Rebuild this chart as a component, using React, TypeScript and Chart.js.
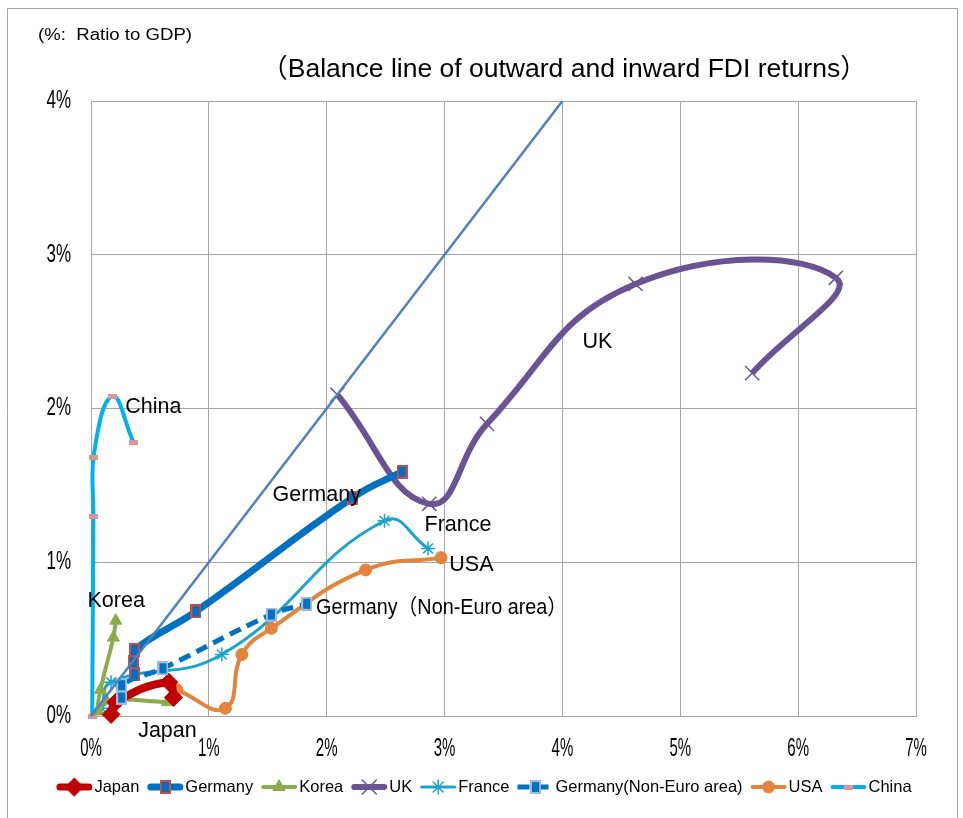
import React, { useEffect, useRef } from "react";
import { Chart, registerables } from "chart.js";
import { drawPoint } from "chart.js/helpers";

Chart.register(...registerables);

// Axis ticks (percent of GDP)
const xTickValues = [0, 1, 2, 3, 4, 5, 6, 7];
const yTickValues = [0, 1, 2, 3, 4];

const seriesNames = [
  "Japan",
  "Germany",
  "Korea",
  "UK",
  "France",
  "Germany(Non-Euro area)",
  "USA",
  "China",
];

// [outward FDI returns, inward FDI returns] as % of GDP
const japan: [number, number][] = [[0.17, 0.01], [0.21, 0.09], [0.66, 0.22], [0.70, 0.12]];
const germany: [number, number][] = [[0.37, 0.27], [0.36, 0.35], [0.37, 0.43], [0.89, 0.68], [2.22, 1.42], [2.64, 1.59]];
const korea: [number, number][] = [[0.65, 0.09], [0.13, 0.10], [0.06, 0.03], [0.08, 0.17], [0.19, 0.51], [0.21, 0.62]];
const uk: [number, number][] = [[2.09, 2.09], [2.87, 1.38], [3.36, 1.90], [4.62, 2.81], [6.32, 2.85], [5.61, 2.23]];
const france: [number, number][] = [[0.09, 0.05], [0.17, 0.22], [1.11, 0.40], [2.49, 1.27], [2.86, 1.09]];
const germanyNonEuro: [number, number][] = [[0.26, 0.12], [0.26, 0.20], [0.61, 0.31], [1.53, 0.66], [1.83, 0.73]];
const usa: [number, number][] = [[0.73, 0.17], [1.14, 0.05], [1.28, 0.40], [1.53, 0.57], [2.33, 0.95], [2.97, 1.03]];
const china: [number, number][] = [[0.01, 0.0], [0.02, 1.30], [0.02, 1.68], [0.18, 2.08], [0.36, 1.78]];
const balanceLine: [number, number][] = [[0, 0], [4, 4]];

// In-plot series labels, anchored in data units (left edge, vertical middle)
const seriesLabels: { text: string; x: number; y: number; fit?: number }[] = [
  { text: "China", x: 0.29, y: 2.01 },
  { text: "UK", x: 4.17, y: 2.43 },
  { text: "Germany", x: 1.54, y: 1.44 },
  { text: "France", x: 2.83, y: 1.24 },
  { text: "USA", x: 3.04, y: 0.98 },
  { text: "Germany（Non-Euro area）", x: 1.91, y: 0.70, fit: 251 },
  { text: "Korea", x: -0.03, y: 0.75 },
  { text: "Japan", x: 0.40, y: -0.10 },
];

const TITLE = "（Balance line of outward and inward FDI returns）";
const UNIT_NOTE = "(%:  Ratio to GDP)";

const FONT = '"Liberation Sans", Arial, "Noto Sans CJK JP", sans-serif';
const GRID = "#A6A6A6";

const pts = (a: [number, number][]) => a.map(([x, y]) => ({ x, y }));

function boxMarker(w: number, h: number, fill: string, stroke: string | null, lw = 2) {
  const c = document.createElement("canvas");
  c.width = w;
  c.height = h;
  const g = c.getContext("2d")!;
  g.fillStyle = fill;
  g.fillRect(0, 0, w, h);
  if (stroke) {
    g.strokeStyle = stroke;
    g.lineWidth = lw;
    g.strokeRect(lw / 2, lw / 2, w - lw, h - lw);
  }
  return c;
}

function drawText(
  ctx: CanvasRenderingContext2D,
  s: string,
  x: number,
  y: number,
  size: number,
  align: CanvasTextAlign,
  opts: { sx?: number; width?: number; color?: string } = {}
) {
  ctx.save();
  ctx.font = `${size}px ${FONT}`;
  let sx = opts.sx ?? 1;
  if (opts.width) sx = opts.width / ctx.measureText(s).width;
  ctx.translate(x, y);
  ctx.scale(sx, 1);
  ctx.textAlign = align;
  ctx.textBaseline = "middle";
  ctx.fillStyle = opts.color ?? "#000";
  ctx.fillText(s, 0, 0);
  ctx.restore();
}

const decorPlugin = {
  id: "decor",
  beforeDraw(chart: any) {
    const { ctx, width, height } = chart;
    ctx.save();
    ctx.fillStyle = "#fff";
    ctx.fillRect(0, 0, width, height);
    ctx.strokeStyle = "#A0A0A0";
    ctx.lineWidth = 1;
    ctx.beginPath();
    ctx.moveTo(7.5, height);
    ctx.lineTo(7.5, 8.5);
    ctx.lineTo(957.5, 8.5);
    ctx.lineTo(957.5, height);
    ctx.stroke();
    ctx.restore();
  },
  afterDraw(chart: any) {
    const { ctx } = chart;
    const xs = chart.scales.x;
    const ys = chart.scales.y;

    // tick labels
    xs.ticks.forEach((t: any) => {
      drawText(ctx, `${t.value}%`, xs.getPixelForValue(t.value), 749, 25, "center", { sx: 0.6 });
    });
    ys.ticks.forEach((t: any) => {
      drawText(ctx, `${t.value}%`, 71, ys.getPixelForValue(t.value), 25, "right", { sx: 0.68 });
    });

    // heading texts
    drawText(ctx, UNIT_NOTE, 38, 36, 16, "left", { width: 154 });
    drawText(ctx, TITLE, 564, 70, 26.5, "center");

    // series labels
    seriesLabels.forEach((l) => {
      drawText(ctx, l.text, xs.getPixelForValue(l.x), ys.getPixelForValue(l.y), 21.5, "left", {
        width: l.fit,
      });
    });

    // legend
    const sets = chart.data.datasets.filter((d: any) => seriesNames.includes(d.label));
    const symW = 36;
    const fs = 16.5;
    ctx.save();
    ctx.font = `${fs}px ${FONT}`;
    const widths = sets.map((d: any) => ctx.measureText(d.label).width);
    ctx.restore();
    const total =
      widths.reduce((a: number, b: number) => a + b, 0) + sets.length * (symW + 2) + (sets.length - 1) * 8;
    let x = 484 - total / 2;
    const ly = 787;
    sets.forEach((d: any, i: number) => {
      ctx.save();
      ctx.strokeStyle = d.borderColor;
      ctx.lineWidth = Math.min(d.borderWidth, 7);
      ctx.setLineDash(d.borderDash || []);
      ctx.lineCap = d.borderDash ? "butt" : "round";
      const inset = d.borderDash ? 0 : ctx.lineWidth / 2;
      ctx.beginPath();
      ctx.moveTo(x + inset, ly);
      ctx.lineTo(x + symW - inset, ly);
      ctx.stroke();
      ctx.setLineDash([]);
      ctx.fillStyle = d.pointBackgroundColor;
      ctx.strokeStyle = d.pointBorderColor;
      ctx.lineWidth = d.pointBorderWidth;
      drawPoint(
        ctx,
        { pointStyle: d.pointStyle, radius: d.pointRadius, rotation: 0, borderWidth: d.pointBorderWidth } as any,
        x + symW / 2,
        ly
      );
      ctx.restore();
      drawText(ctx, d.label, x + symW + 2, ly, fs, "left");
      x += symW + 2 + widths[i] + 8;
    });
  },
};

export default function App() {
  const ref = useRef<HTMLCanvasElement>(null);

  useEffect(() => {
    const canvas = ref.current!;
    const germanyBox = boxMarker(11, 14, "#0070C0", "#C0504D", 2);
    const nonEuroBox = boxMarker(11, 14, "#0070C0", "#9DBBE3", 2);
    const chinaBox = boxMarker(9, 5, "#D99694", null);

    const line = (
      label: string,
      data: [number, number][],
      color: string,
      width: number,
      marker: any,
      radius: number,
      order: number,
      extra: any = {}
    ) => ({
      label,
      data: pts(data),
      borderColor: color,
      borderWidth: width,
      tension: 0.45,
      pointStyle: marker,
      pointRadius: radius,
      pointBackgroundColor: color,
      pointBorderColor: color,
      pointBorderWidth: 1,
      clip: false,
      order,
      ...extra,
    });

    const chart = new Chart(canvas, {
      type: "line",
      data: {
        datasets: [
          line("Japan", japan, "#C00000", 8, "rectRot", 9, 2),
          line("Germany", germany, "#0070C0", 7, germanyBox, 7, 3),
          line("Korea", korea, "#8CAC4C", 4, "triangle", 7, 4),
          line("UK", uk, "#6A5393", 6, "crossRot", 10, 5, { pointBorderWidth: 1.5 }),
          line("France", france, "#1BA3CB", 3, "star", 7, 6, { pointBorderWidth: 1.5 }),
          line("Germany(Non-Euro area)", germanyNonEuro, "#0070C0", 5, nonEuroBox, 7, 1, {
            borderDash: [12, 7],
            pointBorderColor: "#9DBBE3",
          }),
          line("USA", usa, "#E2843B", 4, "circle", 6, 7),
          line("China", china, "#00B0F0", 4, chinaBox, 5, 8, { pointBackgroundColor: "#D99694" }),
          {
            label: "Balance line",
            data: pts(balanceLine),
            borderColor: "#4F81BD",
            borderWidth: 2.5,
            pointRadius: 0,
            tension: 0,
            clip: false,
            order: 0,
          },
        ] as any,
      },
      options: {
        responsive: false,
        animation: false,
        devicePixelRatio: 1,
        events: [],
        layout: { padding: { left: 91, right: 47, top: 101, bottom: 102 } },
        plugins: { legend: { display: false }, tooltip: { enabled: false }, title: { display: false } },
        scales: {
          x: {
            type: "linear",
            min: xTickValues[0],
            max: xTickValues[xTickValues.length - 1],
            afterBuildTicks: (s: any) => {
              s.ticks = xTickValues.map((v) => ({ value: v }));
            },
            ticks: { display: false },
            grid: { color: GRID, lineWidth: 1, drawTicks: false },
            border: { display: true, color: GRID },
            afterFit: (s: any) => {
              s.height = 0;
            },
          },
          y: {
            type: "linear",
            min: yTickValues[0],
            max: yTickValues[yTickValues.length - 1],
            afterBuildTicks: (s: any) => {
              s.ticks = yTickValues.map((v) => ({ value: v }));
            },
            ticks: { display: false },
            grid: { color: GRID, lineWidth: 1, drawTicks: false },
            border: { display: true, color: GRID },
            afterFit: (s: any) => {
              s.width = 0;
            },
          },
        },
      },
      plugins: [decorPlugin],
    } as any);

    return () => chart.destroy();
  }, []);

  return (
    <canvas
      ref={ref}
      width={963}
      height={818}
      style={{ position: "absolute", left: 0, top: 0, width: 963, height: 818 }}
    />
  );
}
